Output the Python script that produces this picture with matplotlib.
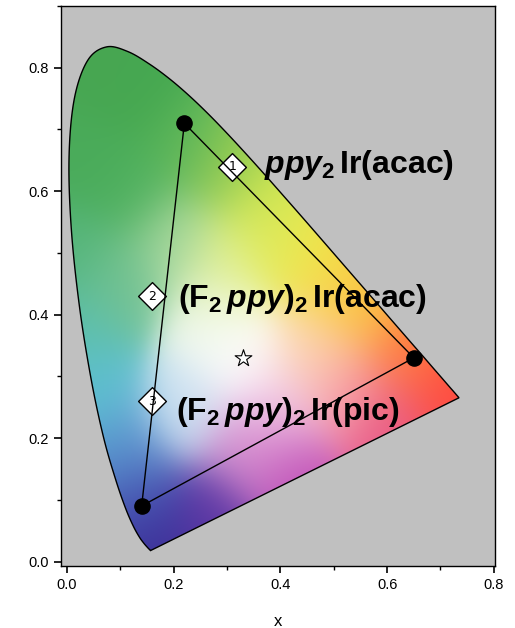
import numpy as np
import matplotlib
matplotlib.use("Agg")
import matplotlib.pyplot as plt
from matplotlib.patches import Polygon
from matplotlib.colors import to_rgb
from matplotlib.ticker import MultipleLocator

# CIE 1931 spectral locus (450-700 nm, 5 nm steps)
locus_x = [0.1566, 0.1510, 0.1440, 0.1355, 0.1241, 0.1096, 0.0913, 0.0687, 0.0454,
           0.0235, 0.0082, 0.0039, 0.0139, 0.0389, 0.0743, 0.1142, 0.1547, 0.1929,
           0.2296, 0.2658, 0.3016, 0.3373, 0.3731, 0.4087, 0.4441, 0.4788, 0.5125,
           0.5448, 0.5752, 0.6029, 0.6270, 0.6482, 0.6658, 0.6801, 0.6915, 0.7006,
           0.7079, 0.7140, 0.7190, 0.7230, 0.7260, 0.7283, 0.7300, 0.7311, 0.7320,
           0.7327, 0.7334, 0.7340, 0.7344, 0.7346, 0.7347]
locus_y = [0.0177, 0.0227, 0.0297, 0.0399, 0.0578, 0.0868, 0.1327, 0.2007, 0.2950,
           0.4127, 0.5384, 0.6548, 0.7502, 0.8120, 0.8338, 0.8262, 0.8059, 0.7816,
           0.7543, 0.7243, 0.6923, 0.6589, 0.6245, 0.5896, 0.5547, 0.5202, 0.4866,
           0.4544, 0.4242, 0.3965, 0.3725, 0.3514, 0.3340, 0.3197, 0.3083, 0.2993,
           0.2920, 0.2859, 0.2809, 0.2770, 0.2740, 0.2717, 0.2700, 0.2689, 0.2680,
           0.2673, 0.2666, 0.2660, 0.2656, 0.2654, 0.2653]

# colour anchors of the chromaticity fill (as seen in the picture)
anc_x = [0.07, 0.14, 0.03, 0.22, 0.12, 0.01, 0.10, 0.02, 0.05, 0.10, 0.13, 0.16,
         0.27, 0.42, 0.60, 0.72, 0.64, 0.56, 0.47, 0.38, 0.30, 0.33, 0.27, 0.40,
         0.22, 0.30, 0.46, 0.20, 0.52, 0.40, 0.52, 0.34]
anc_y = [0.80, 0.76, 0.65, 0.68, 0.60, 0.50, 0.45, 0.38, 0.28, 0.18, 0.10, 0.03,
         0.07, 0.14, 0.22, 0.27, 0.34, 0.42, 0.50, 0.58, 0.64, 0.33, 0.39, 0.25,
         0.25, 0.48, 0.35, 0.52, 0.28, 0.52, 0.45, 0.18]
anc_c = ['#48a652', '#45a850', '#4aab5a', '#5ab55a', '#4eb05e', '#55b57a',
         '#74c292', '#5cbfae', '#5ec0d2', '#5a98d0', '#4858b5', '#3a2c95',
         '#5c36a4', '#c050b8', '#e85a88', '#ff4a40', '#ff7a40', '#fcb440',
         '#f2e448', '#cde652', '#96cc52', '#ffffff', '#f0f8ec', '#f2c8e6',
         '#cde2f2', '#e2f090', '#fdd8b0', '#a8d8a0', '#f8a0a8', '#e6ec5a',
         '#f8d84a', '#d890d0']

# emitter CIE coordinates (triangle vertices)
vert_x = [0.22, 0.65, 0.14]
vert_y = [0.71, 0.33, 0.09]
# numbered diamonds
dia_x = [0.31, 0.16, 0.16]
dia_y = [0.64, 0.43, 0.26]
dia_labels = ["1", "2", "3"]
# white point
star_x, star_y = 0.33, 0.33
# compound labels
lab_text = [r"$\mathit{ppy}_{2}\,\mathrm{Ir(acac)}$",
            r"$\mathrm{(F}_{2}\,\mathit{ppy}\mathrm{)}_{2}\,\mathrm{Ir(acac)}$",
            r"$\mathrm{(F}_{2}\,\mathit{ppy}\mathrm{)}_{2}\,\mathrm{Ir(pic)}$"]
lab_x = [0.370, 0.208, 0.204]
lab_y = [0.630, 0.4125, 0.229]

plt.rcParams['mathtext.fontset'] = 'custom'
plt.rcParams['mathtext.rm'] = 'Liberation Sans:bold'
plt.rcParams['mathtext.bf'] = 'Liberation Sans:bold'
plt.rcParams['mathtext.it'] = 'Liberation Sans:italic:bold'
plt.rcParams['mathtext.sf'] = 'Liberation Sans:bold'
plt.rcParams['font.family'] = ['Liberation Sans', 'DejaVu Sans']


def smooth_open(px, py, n=12):
    P = np.column_stack([px, py])
    P = np.vstack([P[0], P, P[-1]])
    out = []
    for i in range(1, len(P) - 2):
        p0, p1, p2, p3 = P[i - 1], P[i], P[i + 1], P[i + 2]
        for t in np.linspace(0, 1, n, endpoint=False):
            t2, t3 = t * t, t * t * t
            out.append(0.5 * ((2 * p1) + (-p0 + p2) * t +
                              (2 * p0 - 5 * p1 + 4 * p2 - p3) * t2 +
                              (-p0 + 3 * p1 - 3 * p2 + p3) * t3))
    out.append(P[-2])
    return np.array(out)


fig = plt.figure(figsize=(5.15, 6.28), dpi=100)
ax = fig.add_axes([0.1184, 0.0987, 0.961 - 0.1184, 0.9904 - 0.0987])
ax.set_facecolor('#c0c0c0')
ax.set_xlim(-0.0112, 0.802)
ax.set_ylim(-0.0073, 0.900)

# colour fill: smooth gaussian blend of anchors
N = 300
gx = np.linspace(0.0, 0.75, N)
gy = np.linspace(0.0, 0.85, N)
X, Y = np.meshgrid(gx, gy)
ax_arr = np.array(anc_x)
ay_arr = np.array(anc_y)
cols = np.array([to_rgb(c) for c in anc_c])
d2 = (X[..., None] - ax_arr) ** 2 + (Y[..., None] - ay_arr) ** 2
sig = 0.055
w = np.exp(-d2 / (2 * sig ** 2)) + 1e-12
w = w / w.sum(axis=-1, keepdims=True)
fin = np.clip(np.einsum('ijk,kl->ijl', w, cols), 0, 1)
im = ax.imshow(fin, origin='lower', extent=[gx[0], gx[-1], gy[0], gy[-1]],
               interpolation='bilinear', aspect='auto', zorder=1)
pts = smooth_open(locus_x, locus_y)
poly = Polygon(pts, closed=True, facecolor='none', edgecolor='black',
               linewidth=1.0, zorder=2)
ax.add_patch(poly)
im.set_clip_path(poly)

# diamonds
ax.scatter(dia_x, dia_y, marker='D', s=200, facecolor='white', edgecolor='black',
           linewidth=1.0, zorder=3)
for xx, yy, t in zip(dia_x, dia_y, dia_labels):
    ax.text(xx, yy, t, fontsize=9, ha='center', va='center', zorder=4,
            family='DejaVu Sans')
# triangle
tx = vert_x + [vert_x[0]]
ty = vert_y + [vert_y[0]]
ax.plot(tx, ty, color='black', linewidth=1.0, zorder=5)
ax.scatter(vert_x, vert_y, s=120, color='black', zorder=6)
# star
ax.scatter([star_x], [star_y], marker='*', s=160, facecolor='white',
           edgecolor='black', linewidth=0.8, zorder=6)

for t, xx, yy in zip(lab_text, lab_x, lab_y):
    ax.text(xx, yy, t, fontsize=23, ha='left', va='baseline', zorder=7)

ax.xaxis.set_minor_locator(MultipleLocator(0.1))
ax.yaxis.set_minor_locator(MultipleLocator(0.1))
ax.tick_params(which='major', direction='out', length=5, width=1.2, labelsize=10.5)
ax.tick_params(which='minor', direction='out', length=3, width=1.0)
ax.set_xticks([0.0, 0.2, 0.4, 0.6, 0.8])
ax.set_xticklabels(['0.0', '0.2', '0.4', '0.6', '0.8'])
ax.set_yticks([0.0, 0.2, 0.4, 0.6, 0.8])
ax.set_yticklabels(['0.0', '0.2', '0.4', '0.6', '0.8'])
ax.set_xlabel('x', fontsize=12, labelpad=16)
for s in ax.spines.values():
    s.set_linewidth(1.0)

fig.savefig('out.png', dpi=100)
